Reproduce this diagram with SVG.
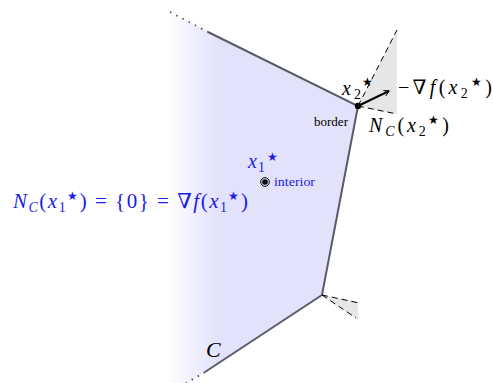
<svg xmlns="http://www.w3.org/2000/svg" width="493" height="383" viewBox="0 0 493 383">
<defs>
  <linearGradient id="fade" gradientUnits="userSpaceOnUse" x1="168" y1="0" x2="218" y2="0">
    <stop offset="0" stop-color="#e2e2fb" stop-opacity="0"/>
    <stop offset="1" stop-color="#e2e2fb" stop-opacity="1"/>
  </linearGradient>
  <marker id="arr" viewBox="0 0 10 10" refX="8" refY="5" markerWidth="7" markerHeight="7" markerUnits="userSpaceOnUse" orient="auto">
    <path d="M1,1 L8,5 L1,9" fill="none" stroke="#000" stroke-width="1.4"/>
  </marker>
  <style>
    .edge{stroke:#5a5a6a;stroke-width:2;fill:none}
    .dots{stroke:#5a5a6a;stroke-width:2;fill:none;stroke-dasharray:1.5 5.5}
    .cone{fill:#e6e6e6;stroke:none}
    .dash{stroke:#000;stroke-width:1;stroke-dasharray:6 4;fill:none}
    .m{font-family:"Liberation Serif","DejaVu Serif",serif;font-style:italic}
    .r{font-family:"Liberation Serif","DejaVu Serif",serif;font-style:normal}
    .blue{fill:#1c1ce8}
  </style>
</defs>

<g id="setC">
  <polygon points="160,7 358,106 322,295 160,402" fill="url(#fade)"/>
  <polyline class="edge" points="208,32 358,106 322,295 205,372"/>
  <line class="dots" x1="170" y1="12" x2="208" y2="32"/>
  <line class="dots" x1="205" y1="372" x2="185" y2="384"/>
  <text class="m" x="206" y="357" font-size="22">C</text>
</g>

<g id="vertex-x2">
  <polygon class="cone" points="358,106 397,30 397,114"/>
  <line class="dash" x1="358" y1="106" x2="397" y2="30"/>
  <line class="dash" x1="358" y1="106" x2="397" y2="114"/>
  <circle cx="358" cy="106" r="3.2" fill="#000"/>
  <text class="m" x="342" y="95" font-size="20">x</text>
  <text class="r" x="354" y="99" font-size="14">2</text>
  <text class="r" x="362" y="86" font-size="12">★</text>
  <text class="r" x="314" y="126" font-size="12" textLength="34" lengthAdjust="spacingAndGlyphs">border</text>
  <text class="m" x="369" y="132" font-size="20" textLength="80" lengthAdjust="spacing">N<tspan font-size="14" dy="4">C</tspan><tspan class="r" dy="-4">(</tspan>x<tspan class="r" font-size="14" dy="4">2</tspan><tspan class="r" font-size="12" dy="-12">★</tspan><tspan class="r" dy="8">)</tspan></text>
  <text class="m" x="398" y="94" font-size="20" textLength="94" lengthAdjust="spacing"><tspan class="r">−∇</tspan>f<tspan class="r">(</tspan>x<tspan class="r" font-size="14" dy="4">2</tspan><tspan class="r" font-size="12" dy="-12">★</tspan><tspan class="r" dy="8">)</tspan></text>
</g>

<g id="vertex-bottom">
  <polygon class="cone" points="322,295 358,302 358,320"/>
  <line class="dash" x1="322" y1="295" x2="359" y2="303"/>
  <line class="dash" x1="322" y1="295" x2="356" y2="318"/>
</g>

<g id="interior-x1">
  <circle cx="265" cy="182" r="4.3" fill="none" stroke="#000" stroke-width="1"/>
  <circle cx="265" cy="182" r="2.8" fill="#000"/>
  <text class="m blue" x="248" y="168" font-size="20">x</text>
  <text class="r blue" x="258" y="172" font-size="14">1</text>
  <text class="r blue" x="267" y="161" font-size="12">★</text>
  <text class="r blue" x="274" y="186" font-size="12.5" textLength="41" lengthAdjust="spacingAndGlyphs">interior</text>
  <text class="m blue" x="13" y="208" font-size="21" textLength="235" lengthAdjust="spacing">N<tspan font-size="14" dy="4">C</tspan><tspan class="r" dy="-4">(</tspan>x<tspan class="r" font-size="14" dy="4">1</tspan><tspan class="r" font-size="12" dy="-12">★</tspan><tspan class="r" dy="8">) = {0} = ∇</tspan>f<tspan class="r">(</tspan>x<tspan class="r" font-size="14" dy="4">1</tspan><tspan class="r" font-size="12" dy="-12">★</tspan><tspan class="r" dy="8">)</tspan></text>
</g>

<g id="connectors">
  <line x1="358" y1="106" x2="389" y2="91" stroke="#000" stroke-width="2" marker-end="url(#arr)"/>
</g>
</svg>
